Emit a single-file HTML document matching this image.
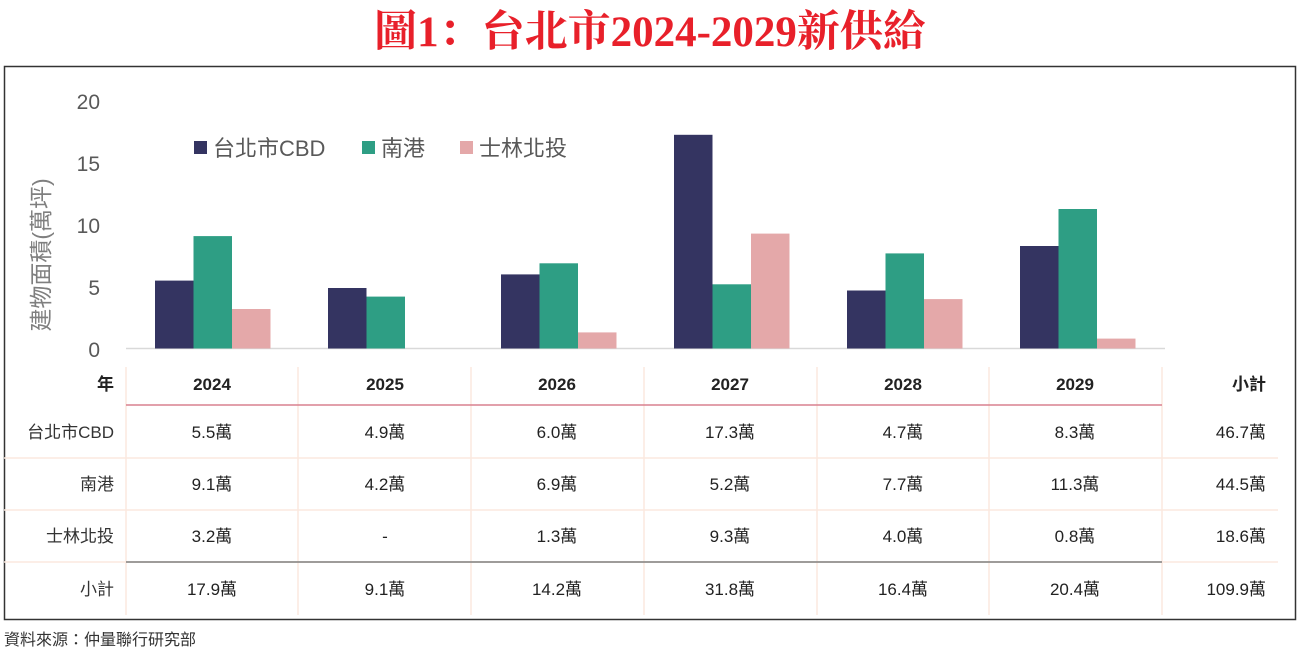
<!DOCTYPE html>
<html><head><meta charset="utf-8"><style>
html,body{margin:0;padding:0;background:#fff;}
svg{display:block;}
text{font-family:"Liberation Sans","Noto Sans CJK TC",sans-serif;}
</style></head><body>
<svg width="1299" height="654" viewBox="0 0 1299 654" xmlns="http://www.w3.org/2000/svg">
<text x="650" y="46" text-anchor="middle" font-size="43" font-weight="bold" fill="#e8202a" style="font-family:'Liberation Serif','Noto Serif CJK SC',serif">圖1：台北市2024-2029新供給</text>
<rect x="4.5" y="66.5" width="1291" height="553" fill="none" stroke="#333" stroke-width="1.5"/>
<g font-size="21" fill="#595959" text-anchor="end">
<text x="100" y="109">20</text><text x="100" y="171">15</text><text x="100" y="233">10</text><text x="100" y="295">5</text><text x="100" y="357">0</text>
</g>
<text transform="translate(49,255) rotate(-90)" text-anchor="middle" font-size="23" fill="#7f7f7f">建物面積(萬坪)</text>
<line x1="126" y1="348.5" x2="1165" y2="348.5" stroke="#d9d9d9" stroke-width="1.5"/>
<rect x="194" y="141" width="13" height="13" fill="#343461"/><text x="213" y="156" font-size="22" fill="#595959">台北市CBD</text>
<rect x="362" y="141" width="13" height="13" fill="#2e9e84"/><text x="381" y="156" font-size="22" fill="#595959">南港</text>
<rect x="460" y="141" width="13" height="13" fill="#e4a8a9"/><text x="479" y="156" font-size="22" fill="#595959">士林北投</text>
<g>
<rect x="155" y="280.6" width="38.5" height="67.9" fill="#343461"/>
<rect x="193.5" y="236.1" width="38.5" height="112.4" fill="#2e9e84"/>
<rect x="232" y="309" width="38.5" height="39.5" fill="#e4a8a9"/>
<rect x="328" y="288" width="38.5" height="60.5" fill="#343461"/>
<rect x="366.5" y="296.6" width="38.5" height="51.9" fill="#2e9e84"/>
<rect x="501" y="274.4" width="38.5" height="74.1" fill="#343461"/>
<rect x="539.5" y="263.3" width="38.5" height="85.2" fill="#2e9e84"/>
<rect x="578" y="332.4" width="38.5" height="16.1" fill="#e4a8a9"/>
<rect x="674" y="134.8" width="38.5" height="213.7" fill="#343461"/>
<rect x="712.5" y="284.3" width="38.5" height="64.2" fill="#2e9e84"/>
<rect x="751" y="233.6" width="38.5" height="114.9" fill="#e4a8a9"/>
<rect x="847" y="290.5" width="38.5" height="58" fill="#343461"/>
<rect x="885.5" y="253.4" width="38.5" height="95.1" fill="#2e9e84"/>
<rect x="924" y="299.1" width="38.5" height="49.4" fill="#e4a8a9"/>
<rect x="1020" y="246" width="38.5" height="102.5" fill="#343461"/>
<rect x="1058.5" y="209" width="38.5" height="139.5" fill="#2e9e84"/>
<rect x="1097" y="338.6" width="38.5" height="9.9" fill="#e4a8a9"/>
</g>
<g stroke="#fbe9df" stroke-width="1.5">
<line x1="126" y1="367" x2="126" y2="615"/><line x1="298" y1="367" x2="298" y2="615"/><line x1="471" y1="367" x2="471" y2="615"/><line x1="644" y1="367" x2="644" y2="615"/><line x1="817" y1="367" x2="817" y2="615"/><line x1="989" y1="367" x2="989" y2="615"/><line x1="1162" y1="367" x2="1162" y2="615"/>
<line x1="4" y1="458" x2="1278" y2="458"/><line x1="4" y1="510" x2="1278" y2="510"/><line x1="4" y1="562" x2="1278" y2="562"/>
</g>
<line x1="126" y1="405" x2="1162" y2="405" stroke="#d9808f" stroke-width="1.5"/>
<line x1="126" y1="562" x2="1162" y2="562" stroke="#7f7f7f" stroke-width="1.5"/>
<g font-size="17" fill="#222">
<g font-weight="bold" text-anchor="middle">
<text x="114" y="390" text-anchor="end">年</text>
<text x="212" y="390">2024</text><text x="385" y="390">2025</text><text x="557" y="390">2026</text><text x="730" y="390">2027</text><text x="903" y="390">2028</text><text x="1075" y="390">2029</text>
<text x="1266" y="390" text-anchor="end">小計</text>
</g>
<g text-anchor="end" fill="#333">
<text x="114" y="438">台北市CBD</text><text x="114" y="490">南港</text><text x="114" y="542">士林北投</text><text x="114" y="595">小計</text>
</g>
<g text-anchor="middle">
<text x="212" y="438">5.5萬</text><text x="385" y="438">4.9萬</text><text x="557" y="438">6.0萬</text><text x="730" y="438">17.3萬</text><text x="903" y="438">4.7萬</text><text x="1075" y="438">8.3萬</text>
<text x="212" y="490">9.1萬</text><text x="385" y="490">4.2萬</text><text x="557" y="490">6.9萬</text><text x="730" y="490">5.2萬</text><text x="903" y="490">7.7萬</text><text x="1075" y="490">11.3萬</text>
<text x="212" y="542">3.2萬</text><text x="385" y="542">-</text><text x="557" y="542">1.3萬</text><text x="730" y="542">9.3萬</text><text x="903" y="542">4.0萬</text><text x="1075" y="542">0.8萬</text>
<text x="212" y="595">17.9萬</text><text x="385" y="595">9.1萬</text><text x="557" y="595">14.2萬</text><text x="730" y="595">31.8萬</text><text x="903" y="595">16.4萬</text><text x="1075" y="595">20.4萬</text>
</g>
<g text-anchor="end">
<text x="1266" y="438">46.7萬</text><text x="1266" y="490">44.5萬</text><text x="1266" y="542">18.6萬</text><text x="1266" y="595">109.9萬</text>
</g>
</g>
<text x="4" y="645" font-size="16" fill="#333">資料來源：仲量聯行研究部</text>
</svg>
</body></html>
